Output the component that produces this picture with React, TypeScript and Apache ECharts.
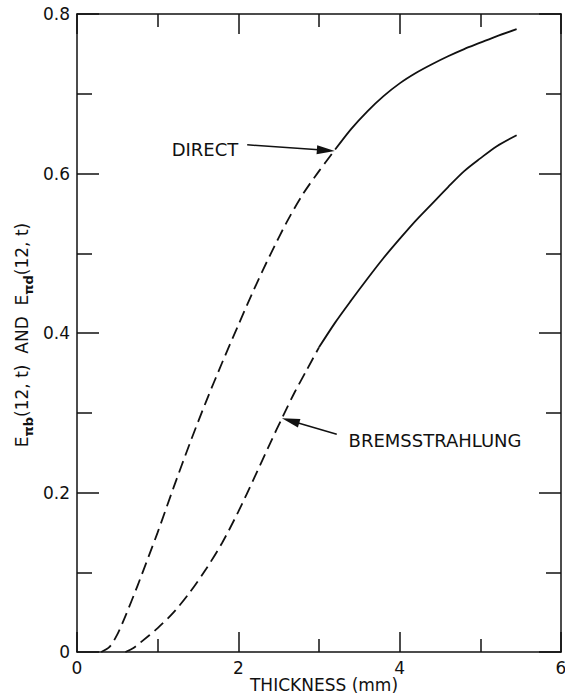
import React, { useEffect, useRef } from "react";
import * as echarts from "echarts";

// Direct component: dashed at small thickness, solid beyond ~3.2 mm
const directDashedX = [0.3, 0.4, 0.5, 0.6, 0.75, 0.9, 1.0, 1.2, 1.4, 1.6, 1.8, 2.0, 2.2, 2.4, 2.6, 2.8, 3.0, 3.2];
const directDashedY = [0.0, 0.006, 0.022, 0.045, 0.083, 0.123, 0.15, 0.207, 0.262, 0.314, 0.363, 0.41, 0.456, 0.499, 0.539, 0.574, 0.603, 0.63];
const directSolidX = [3.2, 3.4, 3.6, 3.8, 4.0, 4.2, 4.4, 4.6, 4.8, 5.0, 5.2, 5.45];
const directSolidY = [0.63, 0.656, 0.678, 0.697, 0.713, 0.726, 0.737, 0.747, 0.756, 0.764, 0.772, 0.781];

// Bremsstrahlung component: dashed up to ~3.0 mm, solid beyond
const bremsDashedX = [0.6, 0.7, 0.8, 1.0, 1.2, 1.4, 1.6, 1.8, 2.0, 2.2, 2.4, 2.55, 2.7, 2.85, 3.0];
const bremsDashedY = [0.0, 0.005, 0.013, 0.03, 0.05, 0.075, 0.104, 0.137, 0.176, 0.219, 0.263, 0.295, 0.326, 0.354, 0.382];
const bremsSolidX = [3.0, 3.2, 3.4, 3.6, 3.8, 4.0, 4.2, 4.4, 4.6, 4.8, 5.0, 5.2, 5.45];
const bremsSolidY = [0.382, 0.413, 0.441, 0.468, 0.494, 0.518, 0.541, 0.562, 0.583, 0.603, 0.619, 0.634, 0.648];

// Arrow annotations (data coordinates): [start, end]
const directArrow = [[2.11, 0.636], [3.085, 0.629]];
const bremsArrow = [[3.22, 0.273], [2.647, 0.29]];

const xTitle = "THICKNESS (mm)";
const directLabel = "DIRECT";
const bremsLabel = "BREMSSTRAHLUNG";

const INK = "#111";
const FONT = "DejaVu Sans";

const zip = (xs: number[], ys: number[]) => xs.map((x, i) => [x, ys[i]]);

function App() {
  const ref = useRef<HTMLDivElement>(null);

  useEffect(() => {
    if (!ref.current) return;
    const chart = echarts.init(ref.current, undefined, { renderer: "svg" });

    const axisLine = { show: true, onZero: false, lineStyle: { color: INK, width: 1.5 } };
    const tickStyle = { color: INK, width: 1.5 };

    const xBase = (position: "bottom" | "top", labels: boolean) => ({
      type: "value",
      min: 0,
      max: 6,
      interval: 2,
      position,
      axisLine,
      axisTick: { show: true, inside: true, length: 20, lineStyle: tickStyle },
      minorTick: { show: true, splitNumber: 2, length: 13, lineStyle: tickStyle },
      splitLine: { show: false },
      minorSplitLine: { show: false },
      axisLabel: {
        show: labels,
        color: INK,
        fontSize: 17,
        lineHeight: 16,
        fontFamily: FONT,
        margin: 8,
      },
    });

    const yBase = (position: "left" | "right", labels: boolean) => ({
      type: "value",
      min: 0,
      max: 0.8,
      interval: 0.2,
      position,
      axisLine,
      axisTick: { show: true, inside: true, length: 22, lineStyle: tickStyle },
      minorTick: { show: true, splitNumber: 2, length: 15, lineStyle: tickStyle },
      splitLine: { show: false },
      minorSplitLine: { show: false },
      axisLabel: {
        show: labels,
        color: INK,
        fontSize: 17,
        fontFamily: FONT,
        margin: 7,
        formatter: (v: number) => (v === 0 ? "0" : v.toFixed(1)),
      },
    });

    const arrowLine = (pts: number[][]) => ({
      silent: true,
      symbol: ["none", "triangle"],
      symbolSize: [9, 18],
      lineStyle: { type: "solid", color: INK, width: 1.5 },
      itemStyle: { color: INK },
      label: { show: false },
      data: [[{ coord: pts[0] }, { coord: pts[1] }]],
    });

    const curve = (name: string, data: number[][], dashed: boolean, extra: any = {}) => ({
      name,
      type: "line",
      data,
      showSymbol: false,
      smooth: 0.3,
      xAxisIndex: 0,
      yAxisIndex: 0,
      lineStyle: { color: INK, width: 1.8, type: dashed ? [12, 6] : "solid" },
      ...extra,
    });

    chart.setOption({
      animation: false,
      backgroundColor: "#fff",
      grid: {
        left: 77,
        top: 14,
        right: 4,
        bottom: 44,
        containLabel: false,
        outerBoundsMode: "none",
      },
      xAxis: [xBase("bottom", true), xBase("top", false)],
      yAxis: [yBase("left", true), yBase("right", false)],
      series: [
        curve("Direct", zip(directDashedX, directDashedY), true),
        curve("Direct", zip(directSolidX, directSolidY), false, { markLine: arrowLine(directArrow) }),
        curve("Bremsstrahlung", zip(bremsDashedX, bremsDashedY), true),
        curve("Bremsstrahlung", zip(bremsSolidX, bremsSolidY), false, { markLine: arrowLine(bremsArrow) }),
      ],
      graphic: [
        {
          type: "text",
          x: 22,
          y: 335,
          rotation: Math.PI / 2,
          style: {
            text: "{m|E}{s|πb}{m|(12, t)  AND  E}{s|πd}{m|(12, t)}",
            align: "center",
            verticalAlign: "middle",
            rich: {
              m: { fontSize: 17, fontFamily: FONT, fill: INK, lineHeight: 26 },
              s: {
                fontSize: 13,
                fontFamily: FONT,
                fontWeight: "bold",
                fill: INK,
                lineHeight: 12,
                verticalAlign: "bottom",
              },
            },
          },
        },
        {
          type: "text",
          x: 324,
          y: 693,
          style: {
            text: xTitle,
            fontSize: 17,
            lineHeight: 16,
            fontFamily: FONT,
            fill: INK,
            align: "center",
            verticalAlign: "bottom",
          },
        },
        {
          type: "text",
          x: 205,
          y: 149,
          style: {
            text: directLabel,
            fontSize: 18,
            fontFamily: FONT,
            fill: INK,
            align: "center",
            verticalAlign: "middle",
          },
        },
        {
          type: "text",
          x: 435,
          y: 440,
          style: {
            text: bremsLabel,
            fontSize: 18,
            fontFamily: FONT,
            fill: INK,
            align: "center",
            verticalAlign: "middle",
          },
        },
      ],
    });

    return () => chart.dispose();
  }, []);

  return (
    <div
      ref={ref}
      style={{ position: "fixed", left: 0, top: 0, width: 565, height: 696, background: "#fff" }}
    />
  );
}

export default App;
